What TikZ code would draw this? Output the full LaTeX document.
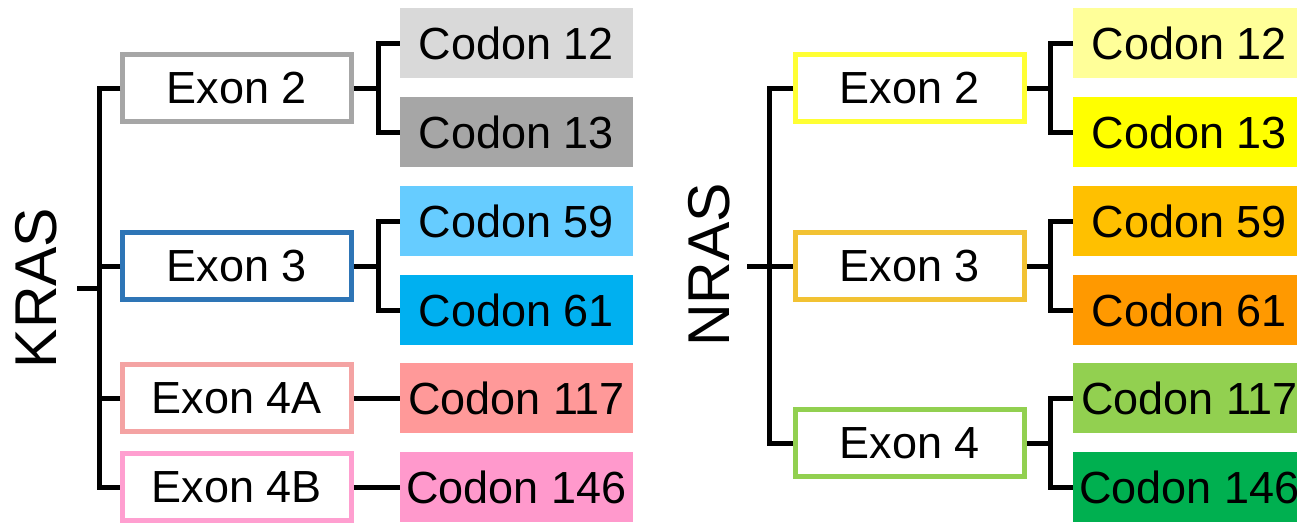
\documentclass[tikz,border=0pt]{standalone}
\usepackage{fontspec}
\setmainfont{Liberation Sans}
\definecolor{kg1}{HTML}{D9D9D9}
\definecolor{kg2}{HTML}{A6A6A6}
\definecolor{kb0}{HTML}{2E75B6}
\definecolor{kb1}{HTML}{66CCFF}
\definecolor{kb2}{HTML}{00B0F0}
\definecolor{ks0}{HTML}{F4A3A3}
\definecolor{ks1}{HTML}{FF9999}
\definecolor{kp0}{HTML}{FF9FD0}
\definecolor{kp1}{HTML}{FF99CC}
\definecolor{ny0}{HTML}{FFFF33}
\definecolor{ny1}{HTML}{FFFF99}
\definecolor{ny2}{HTML}{FFFF00}
\definecolor{no0}{HTML}{F2C233}
\definecolor{no1}{HTML}{FFC000}
\definecolor{no2}{HTML}{FF9900}
\definecolor{ng0}{HTML}{92D050}
\definecolor{ng1}{HTML}{92D050}
\definecolor{ng2}{HTML}{00B050}
\tikzset{
  exonbox/.style={draw=#1, fill=white, line width=4.5pt, minimum width=229pt, minimum height=67pt, inner sep=0pt, font=\fontsize{45}{54}\selectfont},
  codonbox/.style={fill=#1, draw=none, minimum width=233pt, minimum height=70pt, inner sep=0pt, font=\fontsize{45}{54}\selectfont},
  genelabel/.style={rotate=90, inner sep=0pt, font=\fontsize{59}{66}\selectfont},
  conn/.style={draw=black, line width=5pt}
}
\begin{document}
\begin{tikzpicture}[x=1pt,y=-1pt]
\clip (0,0) rectangle (1297,522);
% KRAS
\node[genelabel] (kras) at (36,288) {KRAS};
\node[exonbox=kg2] (ke2) at (237,88) {Exon 2};
\node[exonbox=kb0] (ke3) at (237,266) {Exon 3};
\node[exonbox=ks0] (ke4a) at (237,398) {Exon 4A};
\node[exonbox=kp0] (ke4b) at (237,487) {Exon 4B};
\node[codonbox=kg1] (kc12) at (516.5,43) {Codon 12};
\node[codonbox=kg2] (kc13) at (516.5,132) {Codon 13};
\node[codonbox=kb1] (kc59) at (516.5,221) {Codon 59};
\node[codonbox=kb2] (kc61) at (516.5,310) {Codon 61};
\node[codonbox=ks1] (kc117) at (516.5,398) {Codon 117};
\node[codonbox=kp1] (kc146) at (516.5,487) {Codon 146};
\coordinate (kroot) at (77,288);
\coordinate (kt) at (99,288);
\coordinate (kbr2) at (378,88);
\coordinate (kbr3) at (378,266);
\draw[conn] (ke2.west) -| (kt) |- (ke4b.west);
\draw[conn] (ke3.west) -| (kt);
\draw[conn] (ke4a.west) -| (kt);
\draw[conn] (kroot) -- (kt);
\draw[conn] (kc12.west) -| (kbr2) |- (kc13.west);
\draw[conn] (ke2.east) -- (kbr2);
\draw[conn] (kc59.west) -| (kbr3) |- (kc61.west);
\draw[conn] (ke3.east) -- (kbr3);
\draw[conn] (ke4a.east) -- (kc117.west);
\draw[conn] (ke4b.east) -- (kc146.west);
% NRAS
\node[genelabel] (nras) at (709,265) {NRAS};
\node[exonbox=ny0] (ne2) at (910,88) {Exon 2};
\node[exonbox=no0] (ne3) at (910,266) {Exon 3};
\node[exonbox=ng0] (ne4) at (910,443) {Exon 4};
\node[codonbox=ny1] (nc12) at (1189.5,43) {Codon 12};
\node[codonbox=ny2] (nc13) at (1189.5,132) {Codon 13};
\node[codonbox=no1] (nc59) at (1189.5,221) {Codon 59};
\node[codonbox=no2] (nc61) at (1189.5,310) {Codon 61};
\node[codonbox=ng1] (nc117) at (1189.5,398) {Codon 117};
\node[codonbox=ng2] (nc146) at (1189.5,487) {Codon 146};
\coordinate (nroot) at (747,266);
\coordinate (nt) at (769,266);
\coordinate (nbr2) at (1050,88);
\coordinate (nbr3) at (1050,266);
\coordinate (nbr4) at (1050,443);
\draw[conn] (ne2.west) -| (nt) |- (ne4.west);
\draw[conn] (nroot) -- (ne3.west);
\draw[conn] (nc12.west) -| (nbr2) |- (nc13.west);
\draw[conn] (ne2.east) -- (nbr2);
\draw[conn] (nc59.west) -| (nbr3) |- (nc61.west);
\draw[conn] (ne3.east) -- (nbr3);
\draw[conn] (nc117.west) -| (nbr4) |- (nc146.west);
\draw[conn] (ne4.east) -- (nbr4);
\end{tikzpicture}
\end{document}
